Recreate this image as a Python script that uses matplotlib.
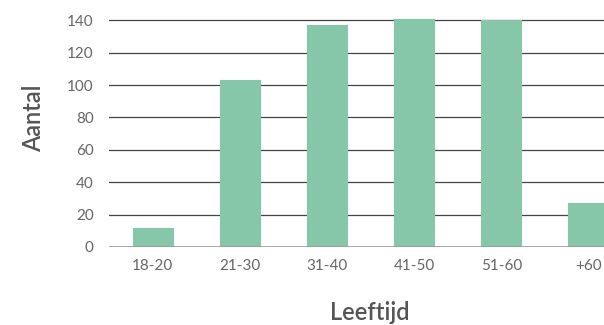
import matplotlib
matplotlib.use("Agg")
import matplotlib.pyplot as plt

categories = ["18-20", "21-30", "31-40", "41-50", "51-60", "+60"]
counts = [12, 103, 137, 141, 140, 27]
y_ticks = [0, 20, 40, 60, 80, 100, 120, 140]

plt.rcParams["font.family"] = ["Lato", "DejaVu Sans"]

W, H = 604, 325
fig = plt.figure(figsize=(W / 100, H / 100), dpi=100)

# axes box in pixels: left edge, baseline, right edge (runs past the figure), top
left_px, base_px, right_px = 109, 247, 632
px_per_unit = (247 - 20.3) / 140
ymax = 142
top_px = base_px - ymax * px_per_unit
ax = fig.add_axes([left_px / W, (H - base_px) / H,
                   (right_px - left_px) / W, (base_px - top_px) / H])

bar_color = "#85c7a8"
x = list(range(len(categories)))
ax.bar(x, counts, width=0.46, color=bar_color, edgecolor=bar_color,
       linewidth=0.8, joinstyle="round", zorder=3)

ax.set_xlim(-0.5, len(categories) - 0.5)
ax.set_ylim(0, ymax)
ax.set_yticks(y_ticks)
ax.set_xticks(x)
ax.set_xticklabels(categories)

for v in y_ticks[1:]:
    ax.axhline(v, color="#444444", linewidth=0.9, zorder=1)
ax.axhline(0, color="#9a9a9a", linewidth=1.2, zorder=4)

for s in ax.spines.values():
    s.set_visible(False)
ax.tick_params(axis="both", length=0, labelsize=11, labelcolor="#666666")
ax.tick_params(axis="y", pad=11)
ax.tick_params(axis="x", pad=9)

fig.text(370 / W, 1 - 313 / H, "Leeftijd", ha="center", va="center",
         fontsize=17, fontweight="semibold", color="#555555")
fig.text(34 / W, 1 - 118 / H, "Aantal", ha="center", va="center",
         rotation=90, fontsize=17, fontweight="semibold", color="#555555")

fig.savefig("out.png", dpi=100)
